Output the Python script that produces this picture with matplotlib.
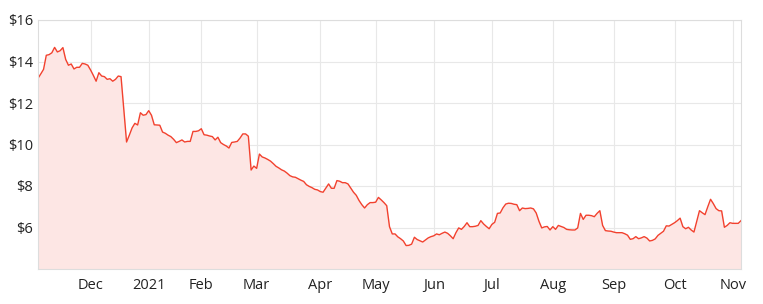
import numpy as np
import pandas as pd
import matplotlib
matplotlib.use('Agg')
import matplotlib.pyplot as plt

# share price, one value per ASX trading day (Nov 2020 - Nov 2021)
nov20 = [13.19, 13.40, 13.62, 14.30, 14.33, 14.42, 14.68, 14.46, 14.52, 14.67,
         14.10, 13.82, 13.88, 13.64, 13.72, 13.72, 13.91, 13.88, 13.82]
dec20 = [13.59, 13.33, 13.05, 13.46, 13.30, 13.27, 13.14, 13.17, 13.05, 13.14,
         13.30, 13.27, 11.70, 10.12, 10.45, 10.80, 11.02, 10.94, 11.53, 11.41, 11.44]
jan21 = [11.63, 11.41, 10.95, 10.94, 10.93, 10.60, 10.54, 10.45, 10.38, 10.25,
         10.09, 10.15, 10.22, 10.12, 10.15, 10.15, 10.63, 10.63, 10.66]
feb21 = [10.76, 10.47, 10.45, 10.41, 10.38, 10.22, 10.35, 10.09, 10.00, 9.93,
         9.83, 10.10, 10.12, 10.15, 10.31, 10.51, 10.51, 10.40, 8.77, 8.96]
mar21 = [8.85, 9.54, 9.40, 9.35, 9.28, 9.20, 9.08, 8.95, 8.87, 8.78,
         8.72, 8.62, 8.50, 8.44, 8.42, 8.35, 8.28, 8.22, 8.06, 7.98,
         7.92, 7.84, 7.81]
apr21 = [7.73, 7.70, 7.90, 8.10, 7.89, 7.89, 8.26, 8.23, 8.16, 8.16,
         8.10, 7.90, 7.70, 7.55, 7.30, 7.10, 6.94, 7.10, 7.20, 7.20]
may21 = [7.22, 7.45, 7.33, 7.20, 7.05, 6.04, 5.69, 5.69, 5.55, 5.46,
         5.35, 5.13, 5.14, 5.20, 5.53, 5.42, 5.36, 5.30, 5.40, 5.50, 5.56]
jun21 = [5.60, 5.69, 5.65, 5.72, 5.78, 5.72, 5.60, 5.46, 5.75, 5.98,
         5.91, 6.05, 6.23, 6.04, 6.04, 6.06, 6.10, 6.33, 6.17, 6.05, 5.94]
jul21 = [6.15, 6.25, 6.68, 6.70, 6.95, 7.13, 7.17, 7.16, 7.12, 7.10,
         6.81, 6.94, 6.91, 6.92, 6.94, 6.90, 6.70, 6.30, 5.98, 6.03, 6.05, 5.88]
aug21 = [6.04, 5.91, 6.10, 6.05, 6.00, 5.91, 5.89, 5.88, 5.88, 5.98,
         6.68, 6.39, 6.59, 6.59, 6.57, 6.52, 6.68, 6.81, 6.10, 5.85, 5.83, 5.82]
sep21 = [5.78, 5.75, 5.75, 5.75, 5.70, 5.63, 5.43, 5.46, 5.56, 5.46,
         5.50, 5.56, 5.49, 5.35, 5.38, 5.45, 5.62, 5.72, 5.82, 6.08, 6.07, 6.15]
oct21 = [6.23, 6.33, 6.45, 6.04, 5.94, 6.01, 5.88, 5.78, 6.30, 6.81,
         6.71, 6.62, 7.00, 7.36, 7.15, 6.91, 6.81, 6.80, 6.01, 6.10, 6.23]
nov21 = [6.20, 6.20, 6.20, 6.33]

START, END = '2020-11-04', '2021-11-04'
HOLIDAYS = ['2020-12-25', '2020-12-28', '2021-01-01', '2021-01-26',
            '2021-04-02', '2021-04-05', '2021-06-14']
month_labels = ['Dec', '2021', 'Feb', 'Mar', 'Apr', 'May', 'Jun',
                'Jul', 'Aug', 'Sep', 'Oct', 'Nov']
y_ticks = [6, 8, 10, 12, 14, 16]

LINE = '#f2412e'
FILL = '#fde6e4'
GRID = '#e8e8e8'
TEXT = '#222222'

prices = np.array(nov20 + dec20 + jan21 + feb21 + mar21 + apr21 + may21 +
                  jun21 + jul21 + aug21 + sep21 + oct21 + nov21)
days = pd.bdate_range(START, END, freq='C', holidays=HOLIDAYS)
n = min(len(days), len(prices))
days, prices = days[:n], prices[:n]
x = np.arange(n)

# ticks at first trading day of each month (category-style axis)
month_key = days.to_period('M')
first_idx = [i for i in range(1, n) if month_key[i] != month_key[i - 1]]

plt.rcParams['font.family'] = ['Open Sans', 'DejaVu Sans']

fig = plt.figure(figsize=(7.63, 3.04), dpi=100)
ax = fig.add_axes([38 / 763, 1 - 269 / 304, 703 / 763, 249 / 304])

ax.fill_between(x, prices, 4, color=FILL, lw=0)
ax.plot(x, prices, color=LINE, lw=1.0)

ax.set_xlim(0, n - 1)
ax.set_ylim(4, 16)
ax.set_yticks(y_ticks)
ax.set_yticklabels([f'${v}' for v in y_ticks])
ax.set_xticks(first_idx)
ax.set_xticklabels(month_labels[:len(first_idx)])

ax.grid(True, color=GRID, lw=0.8)
ax.set_axisbelow(True)
for s in ax.spines.values():
    s.set_color('#dddddd')
    s.set_linewidth(0.8)
ax.tick_params(length=0, labelsize=10.5, colors=TEXT)
ax.tick_params(axis='x', pad=6.5)
ax.tick_params(axis='y', pad=3.5)

fig.savefig('out.png', dpi=100)
